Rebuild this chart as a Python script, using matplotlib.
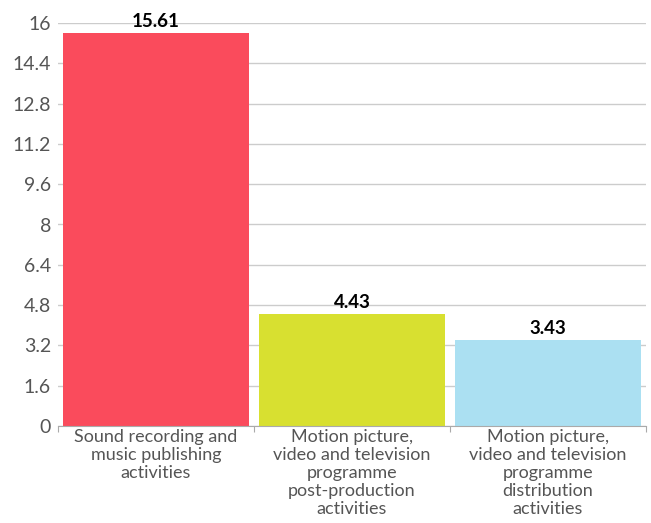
import matplotlib
matplotlib.use("Agg")
import matplotlib.pyplot as plt

categories = ["Sound recording and\nmusic publishing\nactivities",
              "Motion picture,\nvideo and television\nprogramme\npost-production\nactivities",
              "Motion picture,\nvideo and television\nprogramme\ndistribution\nactivities"]
values = [15.61, 4.43, 3.43]
colors = ["#FA4B5C", "#D8E030", "#ABE0F2"]
yticks = [0, 1.6, 3.2, 4.8, 6.4, 8, 9.6, 11.2, 12.8, 14.4, 16]
ytick_labels = ["0", "1.6", "3.2", "4.8", "6.4", "8", "9.6", "11.2", "12.8", "14.4", "16"]

plt.rcParams['font.family'] = ['Lato', 'DejaVu Sans']

fig = plt.figure(figsize=(6.51, 5.23), dpi=100)
ax = fig.add_axes([58/651, (523-426)/523, (646-58)/651, 403/523])

x = list(range(len(values)))
ax.bar(x, values, width=0.945, color=colors, zorder=3)
ax.set_xlim(-0.5, len(values) - 0.5)
ax.set_ylim(0, 16)
ax.set_yticks(yticks)
ax.set_yticklabels(ytick_labels, fontsize=14, color="#555555")
ax.yaxis.grid(True, color="#cccccc", linewidth=1, zorder=0)
ax.tick_params(axis='y', length=0, pad=5)

ax.set_xticks([-0.5, 0.5, 1.5, 2.5], minor=False)
ax.set_xticklabels([])
ax.set_xticks(x, minor=True)
ax.set_xticklabels(categories, minor=True, fontsize=13, color="#555555", linespacing=1.15)
ax.tick_params(axis='x', which='major', length=4, color="#aaaaaa")
ax.tick_params(axis='x', which='minor', length=0, pad=2)

for s in ['top', 'right', 'left']:
    ax.spines[s].set_visible(False)
ax.spines['bottom'].set_color("#aaaaaa")
ax.spines['bottom'].set_zorder(4)

for xi, v in zip(x, values):
    ax.text(xi, v + 0.12, f"{v:.2f}", ha='center', va='bottom', fontsize=13.5,
            fontweight='bold', color='black', zorder=5)

fig.savefig("out.png", dpi=100)
